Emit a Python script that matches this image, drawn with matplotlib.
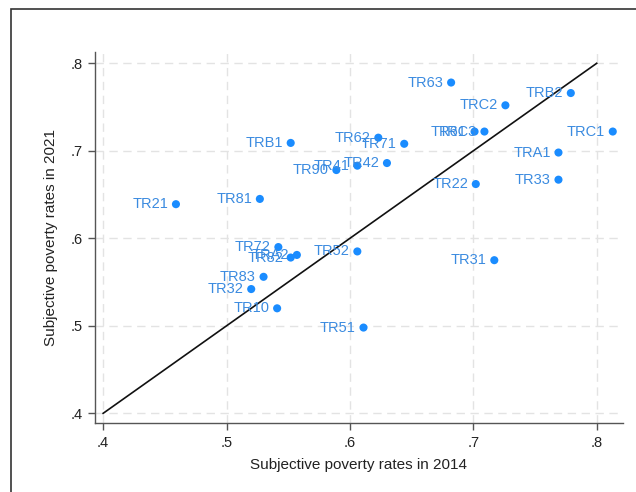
import matplotlib
matplotlib.use("Agg")
import matplotlib.pyplot as plt
from matplotlib.patches import Rectangle

plt.rcParams['font.family'] = ['Liberation Sans', 'DejaVu Sans']

regions = ["TR10", "TR21", "TR22", "TR31", "TR32", "TR33", "TR41", "TR42",
           "TR51", "TR52", "TR61", "TR62", "TR63", "TR71", "TR72", "TR81",
           "TR82", "TR83", "TR90", "TRA1", "TRA2", "TRB1", "TRB2", "TRC1",
           "TRC2", "TRC3"]
pov_2014 = [0.541, 0.459, 0.702, 0.717, 0.520, 0.769, 0.606, 0.630,
            0.611, 0.606, 0.701, 0.623, 0.682, 0.644, 0.542, 0.527,
            0.552, 0.530, 0.589, 0.769, 0.557, 0.552, 0.779, 0.813,
            0.726, 0.709]
pov_2021 = [0.520, 0.639, 0.662, 0.575, 0.542, 0.667, 0.683, 0.686,
            0.498, 0.585, 0.722, 0.715, 0.778, 0.708, 0.590, 0.645,
            0.578, 0.556, 0.678, 0.698, 0.581, 0.709, 0.766, 0.722,
            0.752, 0.722]
ticks = [0.4, 0.5, 0.6, 0.7, 0.8]
tick_labels = [".4", ".5", ".6", ".7", ".8"]

marker_color = "#1a8cff"
label_color = "#3b8be0"

fig = plt.figure(figsize=(6.36, 4.92), dpi=100)
fig.patch.set_facecolor("white")

# outer graph frame
fig.add_artist(Rectangle((11 / 636, -0.05), 1.2, 1 - 9 / 492 + 0.05,
                         transform=fig.transFigure, fill=False,
                         edgecolor="#333333", linewidth=1.2))

ax = fig.add_axes([95 / 636, (492 - 423.3) / 492, 528 / 636, 371.3 / 492])

ax.scatter(pov_2014, pov_2021, s=34, color=marker_color, zorder=3,
           edgecolors="none")
for name, xv, yv in zip(regions, pov_2014, pov_2021):
    ax.annotate(name, (xv, yv), xytext=(-5.5, 0), textcoords="offset points",
                ha="right", va="center", fontsize=10.5, color=label_color,
                zorder=4)

# 45-degree reference line
ax.plot([ticks[0], ticks[-1]], [ticks[0], ticks[-1]], color="#111111",
        linewidth=1.2, zorder=2)

ax.set_xlim(0.3934, 0.8213)
ax.set_ylim(0.3886, 0.8129)
ax.set_xticks(ticks)
ax.set_xticklabels(tick_labels)
ax.set_yticks(ticks)
ax.set_yticklabels(tick_labels)
ax.tick_params(axis="both", labelsize=10.5, length=5, width=1,
               color="#555555", labelcolor="#222222", pad=4)

ax.grid(True, color="#e3e3e3", linestyle=(0, (6, 4)), linewidth=1)
ax.set_axisbelow(True)
for side in ["top", "right"]:
    ax.spines[side].set_visible(False)
for side in ["left", "bottom"]:
    ax.spines[side].set_color("#555555")
    ax.spines[side].set_linewidth(1)

ax.set_xlabel("Subjective poverty rates in 2014", fontsize=11,
              color="#222222", labelpad=6)
ax.set_ylabel("Subjective poverty rates in 2021", fontsize=11,
              color="#222222", labelpad=9)

fig.savefig("out.png", dpi=100)
